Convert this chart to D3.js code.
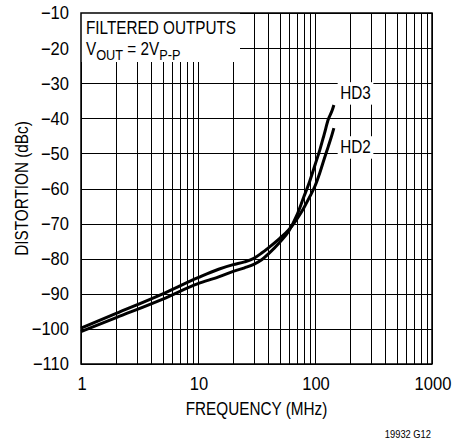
<!DOCTYPE html>
<html>
<head>
<meta charset="utf-8">
<script src="https://cdn.jsdelivr.net/npm/d3@7"></script>
<style>
    body { margin: 0; background: #fff; }
    text { font-family: "Liberation Sans", Arial, sans-serif; fill: #000; }
</style>
</head>
<body>
<div id="chart"></div>
<script>
// values
var freqMHz = [1, 2, 5, 10, 15, 20, 25, 30, 35, 40, 50, 60, 70, 80, 90, 100, 110, 120, 130, 140, 145];
var hd2 = [-99.8, -95.6, -90.0, -85.4, -83.0, -81.7, -80.9, -79.9, -78.4, -76.9, -74.2, -71.7, -68.7,
    -65.6, -62.4, -59.3, -55.5, -51.5, -48.0, -44.6, -42.8];
var hd3 = [-100.8, -96.8, -91.5, -87.1, -85.2, -83.6, -82.6, -81.6, -80.3, -78.6, -75.3, -72.0, -67.6,
    -62.5, -58.0, -53.3, -49.0, -44.5, -40.3, -37.8, -36.2];
var yTicks = [-10, -20, -30, -40, -50, -60, -70, -80, -90, -100, -110];
var xTicks = [1, 10, 100, 1000];
var seriesNames = ['HD3', 'HD2'];

var config = {
    width: 467,
    height: 442,
    margin: { top: 13, right: 35, bottom: 78, left: 81 }
};
var width = config.width - config.margin.left - config.margin.right;
var height = config.height - config.margin.top - config.margin.bottom;
var narrow = 0.85;     // condensed lettering for words
var tickNarrow = 0.92; // digits are a bit wider

var svg = d3
    .select('#chart')
    .append('svg')
    .attr('width', config.width)
    .attr('height', config.height);

var g = svg
    .append('g')
    .attr('transform', 'translate(' + config.margin.left + ',' + config.margin.top + ')');

var x = d3.scaleLog().domain([1, 1000]).range([0, width]);
var y = d3.scaleLinear().domain([-110, -10]).range([height, 0]);

// grid
g.append('g')
    .attr('class', 'x grid')
    .attr('transform', 'translate(0,' + height + ')')
    .call(d3.axisBottom(x).tickValues(x.ticks()).tickSize(-height).tickFormat(''));

g.append('g')
    .attr('class', 'y grid')
    .call(d3.axisLeft(y).tickValues(yTicks).tickSize(-width).tickFormat(''));

g.selectAll('.grid .domain').remove();
g.selectAll('.grid line')
    .attr('stroke', '#000')
    .attr('stroke-width', 1)
    .attr('shape-rendering', 'crispEdges');

// tick labels
g.selectAll('.ylabel')
    .data(yTicks)
    .enter()
    .append('g')
    .attr('class', 'ylabel')
    .attr('transform', d => 'translate(-12,' + y(d) + ') scale(' + tickNarrow + ',1)')
    .append('text')
    .attr('text-anchor', 'end')
    .attr('dy', '0.36em')
    .style('font-size', '18px')
    .text(d => '\u2212' + Math.abs(d));

g.selectAll('.xlabel')
    .data(xTicks)
    .enter()
    .append('g')
    .attr('class', 'xlabel')
    .attr('transform', d => 'translate(' + (x(d) + 1) + ',' + (height + 26) + ') scale(' + tickNarrow + ',1)')
    .append('text')
    .attr('text-anchor', 'middle')
    .style('font-size', '18px')
    .text(d => d);

// helper for the condensed lettering
function label(parent, px, py, size, anchor, rotate) {
    var t = 'translate(' + px + ',' + py + ')' + (rotate ? ' rotate(-90)' : '') + ' scale(' + narrow + ',1)';
    return parent
        .append('g')
        .attr('transform', t)
        .append('text')
        .attr('text-anchor', anchor)
        .style('font-size', size + 'px');
}

// white patch behind a label, cuts the grid
function whiteBox(textSel, padX, padY) {
    var b = textSel.node().getBBox();
    d3.select(textSel.node().parentNode)
        .insert('rect', 'text')
        .attr('x', b.x - padX)
        .attr('y', b.y - padY)
        .attr('width', b.width + 2 * padX)
        .attr('height', b.height + 2 * padY)
        .attr('fill', '#fff');
}

var note = g.append('g').attr('transform', 'translate(5,0) scale(' + narrow + ',1)');
note.append('rect')
    .attr('x', -5 / narrow)
    .attr('y', 0)
    .attr('width', 159 / narrow)
    .attr('height', 49)
    .attr('fill', '#fff');
note.append('text')
    .attr('y', 21)
    .style('font-size', '18px')
    .text('FILTERED OUTPUTS');
var vout = note.append('text')
    .attr('y', 42)
    .style('font-size', '18px');
vout.append('tspan').text('V');
vout.append('tspan').attr('dy', 5).style('font-size', '15px').text('OUT');
vout.append('tspan').attr('dy', -5).text(' = 2V');
vout.append('tspan').attr('dy', 5).style('font-size', '15px').text('P-P');

// series labels
var hd3Label = label(g, x(200) - 10, y(-34.6), 18, 'start').text(seriesNames[0]);
whiteBox(hd3Label, 3, 1);
var hd2Label = label(g, x(200) - 10, y(-50), 18, 'start').text(seriesNames[1]);
whiteBox(hd2Label, 3, 1);

// curves
var line = d3.line()
    .x(d => x(d[0]))
    .y(d => y(d[1]))
    .curve(d3.curveMonotoneX);

[hd3, hd2].forEach(function (values) {
    g.append('path')
        .datum(freqMHz.map((f, i) => [f, values[i]]))
        .attr('fill', 'none')
        .attr('stroke', '#000')
        .attr('stroke-width', 3)
        .attr('d', line);
});

// frame
g.append('rect')
    .attr('width', width)
    .attr('height', height)
    .attr('fill', 'none')
    .attr('stroke', '#000')
    .attr('stroke-width', 1.5);

// axes titles
label(g, width / 2, height + 51, 18, 'middle').text('FREQUENCY (MHz)');
label(g, 28 - config.margin.left, height / 2, 18, 'middle', true).text('DISTORTION (dBc)');
label(svg, 431, 438, 11, 'end').text('19932 G12');
</script>
</body>
</html>
